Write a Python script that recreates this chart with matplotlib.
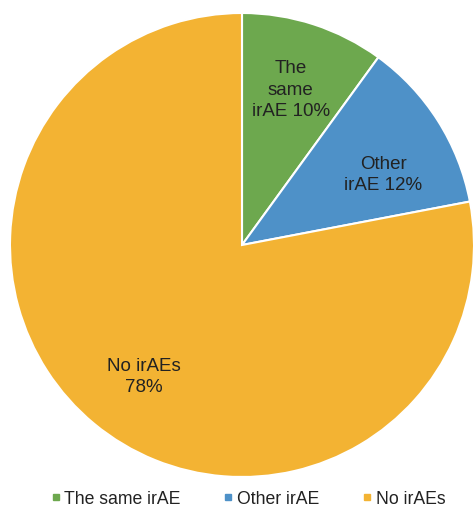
import matplotlib
matplotlib.use("Agg")
import matplotlib.pyplot as plt
import numpy as np
from matplotlib.lines import Line2D

categories = ["The same irAE", "Other irAE", "No irAEs"]
values = [10, 12, 78]
slice_labels = ["The\nsame\nirAE 10%", "Other\nirAE 12%", "No irAEs\n78%"]
colors = ["#6DA84E", "#4E91C8", "#F3B333"]
label_dist = [0.70, 0.68, 0.71]
label_angle_shift = [0.5, -6.0, 3.0]

plt.rcParams['font.family'] = ['Liberation Sans', 'DejaVu Sans']

W, H = 474, 508
fig = plt.figure(figsize=(W / 100, H / 100), dpi=100)
ax = fig.add_axes([0, 0, 1, 1])

cx, cy, r = 242, H - 245, 232
wedges, _ = ax.pie(values, colors=colors, startangle=90, counterclock=False,
                   center=(cx, cy), radius=r, frame=True,
                   wedgeprops=dict(edgecolor='white', linewidth=1.5))
ax.set_xlim(0, W)
ax.set_ylim(0, H)
ax.set_aspect('equal')
ax.axis('off')

for w, lab, d, sh in zip(wedges, slice_labels, label_dist, label_angle_shift):
    th = np.deg2rad((w.theta1 + w.theta2) / 2 + sh)
    ax.text(cx + d * r * np.cos(th), cy + d * r * np.sin(th), lab,
            ha='center', va='center', fontsize=13.5, color='#222222', linespacing=1.32)

handles = [Line2D([], [], marker='s', linestyle='none', markersize=5,
                  markerfacecolor=c, markeredgecolor=c) for c in colors]
fig.legend(handles, categories, loc='center', bbox_to_anchor=(247 / W, 1 - 499 / H),
           ncol=3, frameon=False, fontsize=12.7, handletextpad=0.1,
           columnspacing=2.3, handlelength=0.8, labelcolor='#222222')

fig.savefig("out.png", dpi=100)
